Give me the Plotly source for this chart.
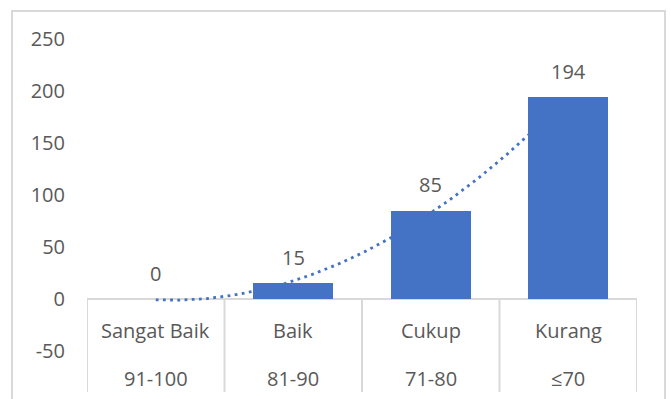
import numpy as np
import plotly.graph_objects as go

# ---- data ----
categories = ["Sangat Baik", "Baik", "Cukup", "Kurang"]
score_ranges = ["91-100", "81-90", "71-80", "≤70"]
values = [0, 15, 85, 194]
y_ticks = [-50, 0, 50, 100, 150, 200, 250]
y_tick_labels = ["-50", "0", "50", "100", "150", "200", "250"]

# ---- style ----
BLUE = "#4472C4"
TEXT = "#595959"
LINE = "#D9D9D9"
FONT = "Open Sans"
FS = 20

W, H = 671, 399
L, R, T, B = 87, 34, 30, 7          # margins (px)
Y_MIN, Y_MAX = -89.3, 258.4

x = np.arange(len(categories))
# polynomial (order 2) trendline fitted to the data, like the spreadsheet trendline
coef = np.polyfit(x, values, 2)
xt = np.linspace(0, len(categories) - 1, 300)
yt = np.polyval(coef, xt)

fig = go.Figure()
fig.add_trace(go.Scatter(
    x=xt, y=yt, mode="lines", xaxis="x", yaxis="y",
    line=dict(color=BLUE, width=2.8, dash="2.8px,4.4px"),
    hoverinfo="skip", showlegend=False,
))
fig.add_trace(go.Bar(
    x=x, y=values, width=0.58, xaxis="x2", yaxis="y2",
    marker=dict(color=BLUE, line=dict(width=0)),
    showlegend=False,
))

annotations = []
for i, (v, c, r) in enumerate(zip(values, categories, score_ranges)):
    annotations.append(dict(x=i, y=v, xref="x", yref="y", text=str(v), showarrow=False,
                            yanchor="middle", yshift=26, font=dict(family=FONT, size=FS, color=TEXT)))
    annotations.append(dict(x=i, y=0, xref="x", yref="y", text=c, showarrow=False,
                            yanchor="middle", yshift=-31, font=dict(family=FONT, size=FS, color=TEXT)))
    annotations.append(dict(x=i, y=0, xref="x", yref="y", text=r, showarrow=False,
                            yanchor="middle", yshift=-79, font=dict(family=FONT, size=FS, color=TEXT)))

shapes = []
# category separators below the axis
for b in np.arange(-0.5, len(categories), 1.0):
    shapes.append(dict(type="line", xref="x", yref="y", x0=b, x1=b, y0=Y_MIN, y1=0,
                       line=dict(color=LINE, width=2)))

# chart frame
pw, ph = W - L - R, H - T - B
def px2paper_x(p): return (p - L) / pw
def px2paper_y(p): return (H - B - p) / ph
shapes.append(dict(type="rect", xref="paper", yref="paper",
                   x0=px2paper_x(12), x1=px2paper_x(665),
                   y0=px2paper_y(420), y1=px2paper_y(11),
                   line=dict(color=LINE, width=2), fillcolor="rgba(0,0,0,0)", layer="below"))

fig.update_layout(
    width=W, height=H,
    margin=dict(l=L, r=R, t=T, b=B),
    paper_bgcolor="white", plot_bgcolor="white",
    font=dict(family=FONT, size=FS, color=TEXT),
    xaxis=dict(range=[-0.5, len(categories) - 0.5], showticklabels=False, showgrid=False,
               zeroline=False, showline=False, ticks=""),
    xaxis2=dict(overlaying="x", matches="x", visible=False),
    yaxis=dict(range=[Y_MIN, Y_MAX], tickvals=y_ticks, ticktext=y_tick_labels,
               showgrid=False, showline=False,
               zeroline=True, zerolinecolor=LINE, zerolinewidth=2, ticks="",
               ticklabelstandoff=21, tickfont=dict(family=FONT, size=FS, color=TEXT)),
    yaxis2=dict(overlaying="y", matches="y", visible=False),
    annotations=annotations,
    shapes=shapes,
    bargap=0,
)

fig.write_html("out.html")
